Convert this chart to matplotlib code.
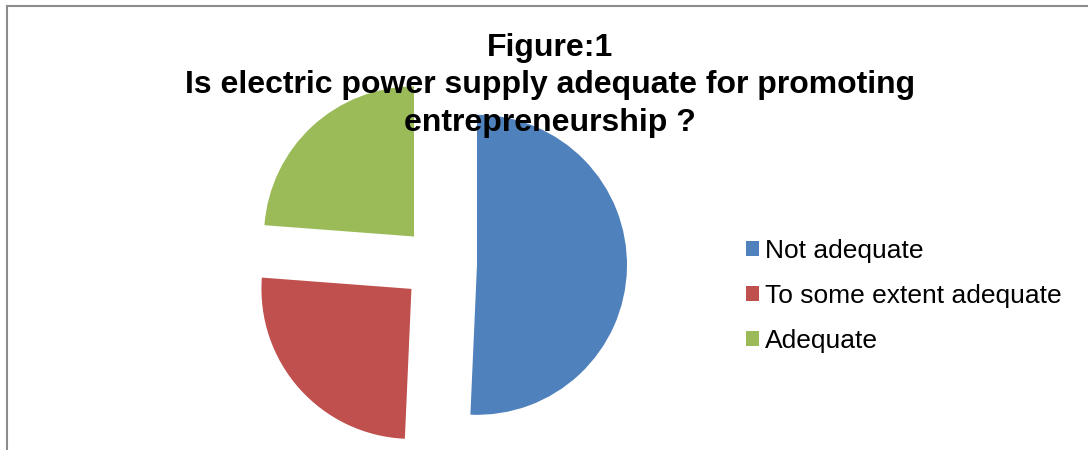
import matplotlib.pyplot as plt
from matplotlib.lines import Line2D

plt.rcParams['font.family'] = ['Liberation Sans', 'DejaVu Sans']

# data
labels = ['Not adequate', 'To some extent adequate', 'Adequate']
shares = [50.7, 25.5, 23.8]
colors = ['#4F81BD', '#C0504D', '#9BBB59']
explode = [37.5, 37.5, 37.5]  # pie offsets, in axes data units (px)

fig = plt.figure(figsize=(10.88, 4.5), dpi=100)
ax = fig.add_axes([0, 0, 1, 1])

wedges, _ = ax.pie(shares, colors=colors, explode=explode, startangle=90,
                   counterclock=False, radius=150, center=(439.5, 186),
                   frame=True, wedgeprops=dict(linewidth=0))
ax.set_xlim(0, 1088)
ax.set_ylim(0, 450)
ax.set_aspect('equal')
ax.axis('off')

# chart-area border (top and left only visible)
ax.add_line(Line2D([7, 7], [0, 444], color='#8c8c8c', lw=1.5))
ax.add_line(Line2D([7, 1088], [444, 444], color='#8c8c8c', lw=1.5))

ax.text(550, 450 - 33, 'Figure:1\nIs electric power supply adequate for promoting\nentrepreneurship ?',
        ha='center', va='top', fontsize=23, fontweight='bold',
        linespacing=1.32)

leg = ax.legend(wedges, labels, loc='upper left', bbox_to_anchor=(746 / 1088, 1 - 239 / 450),
                frameon=False, fontsize=19, handlelength=0.5, handleheight=0.5,
                handletextpad=0.23, labelspacing=0.8, borderpad=0, borderaxespad=0)

fig.savefig('out.png', dpi=100)
